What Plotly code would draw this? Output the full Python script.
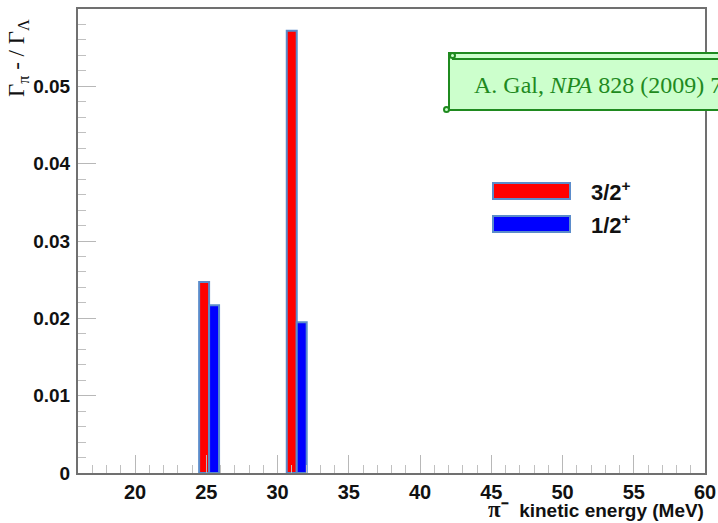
import plotly.graph_objects as go

# ---- data ----
bin_centers = [25.2, 31.35]          # pion kinetic energy (MeV), pair centres
red_values = [0.0247, 0.0572]        # 3/2+
blue_values = [0.0217, 0.0195]       # 1/2+
bar_width = 0.7
series_names = ["3/2<sup>+</sup>", "1/2<sup>+</sup>"]
x_ticks = [20, 25, 30, 35, 40, 45, 50, 55, 60]
y_ticks = [0, 0.01, 0.02, 0.03, 0.04, 0.05]
y_tick_labels = ["0", "0.01", "0.02", "0.03", "0.04", "0.05"]

W, H = 718, 523
L, R, T, B = 78, 13, 9, 50
PW, PH = W - L - R, H - T - B


def px(x):
    return (x - L) / PW


def py(y):
    return (H - B - y) / PH


outline = dict(color="#5b8ccb", width=2)

fig = go.Figure()
fig.add_trace(go.Bar(x=bin_centers, y=red_values, width=bar_width, offset=-bar_width,
                     marker=dict(color="#ff0000", line=outline), name="3/2+", showlegend=False))
fig.add_trace(go.Bar(x=bin_centers, y=blue_values, width=bar_width, offset=0,
                     marker=dict(color="#0000ff", line=outline), name="1/2+", showlegend=False))

fig.update_layout(
    width=W, height=H,
    margin=dict(l=L, r=R, t=T, b=B, autoexpand=False),
    paper_bgcolor="white", plot_bgcolor="white",
    barmode="overlay",
    xaxis=dict(range=[16, 60], tickvals=x_ticks, ticktext=["<b>%s</b>" % v for v in x_ticks],
               ticks="inside", ticklen=18, tickwidth=1, tickcolor="#b8b8b8",
               minor=dict(dtick=1, ticks="inside", ticklen=8, tickcolor="#c0c0c0"),
               showgrid=False, zeroline=False, showline=True, linecolor="#707070",
               linewidth=2, mirror=True,
               tickfont=dict(family="Liberation Sans, Arial", size=20, color="#111111"),
               ticklabelstandoff=0),
    yaxis=dict(range=[0, 0.06], tickvals=y_ticks, ticktext=["<b>%s</b>" % v for v in y_tick_labels],
               ticks="inside", ticklen=18, tickwidth=1, tickcolor="#b8b8b8",
               minor=dict(dtick=0.002, ticks="inside", ticklen=8, tickcolor="#c0c0c0"),
               showgrid=False, zeroline=False, showline=True, linecolor="#707070",
               linewidth=2, mirror=True,
               tickfont=dict(family="Liberation Sans, Arial", size=19, color="#111111"),
               ticklabelstandoff=2),
    font=dict(family="Liberation Sans, Arial"),
)

# axis titles
fig.add_annotation(xref="paper", yref="paper", x=px(706), y=py(509), xanchor="right", yanchor="middle",
                   showarrow=False,
                   text="<span style='font-family:Liberation Serif;font-size:23px'><b>π⁻</b></span>  <b>kinetic energy (MeV)</b>",
                   font=dict(family="Liberation Sans, Arial", size=19, color="#111111"))
fig.add_annotation(xref="paper", yref="paper", x=px(18), y=py(17), xanchor="center", yanchor="top",
                   showarrow=False, textangle=-90,
                   text="Γ<sub>π</sub> - / Γ<sub>Λ</sub>",
                   font=dict(family="Liberation Serif, Times New Roman", size=23, color="#111111"))

# custom legend
leg_rows = [(191, "#ff0000"), (224, "#0000ff")]
for (yc, col), name in zip(leg_rows, series_names):
    fig.add_shape(type="rect", xref="paper", yref="paper",
                  x0=px(493), x1=px(570), y0=py(yc - 8), y1=py(yc + 8),
                  fillcolor=col, line=dict(color="#5b8ccb", width=2))
    fig.add_annotation(xref="paper", yref="paper", x=px(589), y=py(yc), xanchor="left", yanchor="middle",
                       showarrow=False, text="<b>%s</b>" % name,
                       font=dict(family="Liberation Sans, Arial", size=22, color="#111111"))

# reference scroll box
green = "#1f8a1f"
fig.add_shape(type="rect", xref="paper", yref="paper", x0=px(449), x1=px(760), y0=py(53), y1=py(110),
              fillcolor="#ccffcc", line=dict(color=green, width=2))
fig.add_shape(type="line", xref="paper", yref="paper", x0=px(452), x1=px(760), y0=py(59), y1=py(59),
              line=dict(color=green, width=2))
fig.add_shape(type="circle", xref="paper", yref="paper", x0=px(450), x1=px(455), y0=py(53), y1=py(58),
              fillcolor="#ccffcc", line=dict(color=green, width=2))
fig.add_shape(type="circle", xref="paper", yref="paper", x0=px(444), x1=px(449), y0=py(107), y1=py(112),
              fillcolor="#ccffcc", line=dict(color=green, width=2))
fig.add_annotation(xref="paper", yref="paper", x=px(472), y=py(85), xanchor="left", yanchor="middle",
                   showarrow=False, text="A. Gal, <i>NPA</i> 828 (2009) 72",
                   font=dict(family="Liberation Serif, Times New Roman", size=24, color="#1f8a1f"))

fig.write_html("out.html")
